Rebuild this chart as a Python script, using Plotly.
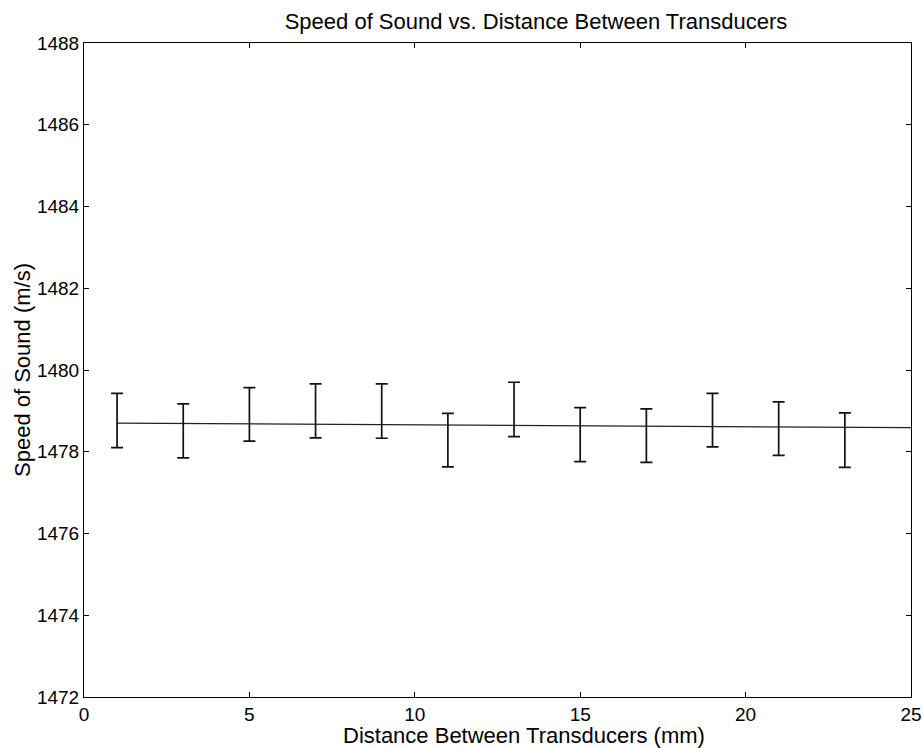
import plotly.graph_objects as go

# Distance between transducers (mm)
distance = [1, 3, 5, 7, 9, 11, 13, 15, 17, 19, 21, 23]
# Upper and lower ends of each error bar (m/s)
upper = [1479.43, 1479.17, 1479.57, 1479.66, 1479.66, 1478.94,
         1479.70, 1479.08, 1479.05, 1479.43, 1479.22, 1478.95]
lower = [1478.10, 1477.85, 1478.26, 1478.34, 1478.33, 1477.63,
         1478.37, 1477.76, 1477.74, 1478.12, 1477.91, 1477.62]
# Fitted speed line (value on the line at each distance)
fit_speed = [1478.70, 1478.69, 1478.68, 1478.67, 1478.66, 1478.65,
             1478.65, 1478.64, 1478.63, 1478.62, 1478.61, 1478.60]
fit_end_distance = 25
fit_end_speed = 1478.59

x_ticks = [0, 5, 10, 15, 20, 25]
y_ticks = [1472, 1474, 1476, 1478, 1480, 1482, 1484, 1486, 1488]

err_plus = [u - f for u, f in zip(upper, fit_speed)]
err_minus = [f - l for l, f in zip(lower, fit_speed)]

font = "Liberation Sans, Arial, sans-serif"

W, H = 923, 748
L, R, T, B = 84, 12, 43, 51
plot_h = H - T - B
plot_w = W - L - R

fig = go.Figure()
fig.add_trace(go.Scatter(
    x=distance + [fit_end_distance], y=fit_speed + [fit_end_speed], mode="lines",
    line=dict(color="#222222", width=1.2), showlegend=False, hoverinfo="skip"))
fig.add_trace(go.Scatter(
    x=distance, y=fit_speed, mode="markers", marker=dict(size=1, color="rgba(0,0,0,0)"),
    error_y=dict(type="data", symmetric=False,
                 array=err_plus, arrayminus=err_minus,
                 color="#111111", thickness=1.7, width=6),
    showlegend=False))

axis_common = dict(
    showline=True, linecolor="black", linewidth=1, mirror="ticks",
    ticks="inside", ticklen=5, tickcolor="black", tickwidth=1,
    showgrid=False, zeroline=False, automargin=False,
    ticklabeloverflow="allow",
    tickfont=dict(family=font, size=19, color="black"),
)

fig.update_layout(
    width=W, height=H,
    margin=dict(l=L, r=R, t=T, b=B),
    paper_bgcolor="white", plot_bgcolor="white",
    title=dict(text="Speed of Sound vs. Distance Between Transducers",
               x=536 / W, xanchor="center", y=1 - 21 / H, yanchor="middle",
               font=dict(family=font, size=22, color="black")),
    xaxis=dict(range=[0, 25], tickvals=x_ticks, ticktext=[str(v) for v in x_ticks],
               **axis_common),
    yaxis=dict(range=[1472, 1488], tickvals=y_ticks, ticktext=[str(v) for v in y_ticks],
               title=dict(text="Speed of Sound (m/s)", standoff=0,
                          font=dict(family=font, size=22, color="black")),
               **axis_common),
    annotations=[dict(text="Distance Between Transducers (mm)",
                      xref="paper", yref="paper",
                      x=(523.5 - L) / plot_w, y=-(735 - (H - B)) / plot_h,
                      xanchor="center", yanchor="middle", showarrow=False,
                      font=dict(family=font, size=22, color="black"))],
)

fig.write_html(
    "out.html",
    config={"displayModeBar": False},
    post_script="document.body.style.margin='0';document.body.style.overflow='hidden';",
)
